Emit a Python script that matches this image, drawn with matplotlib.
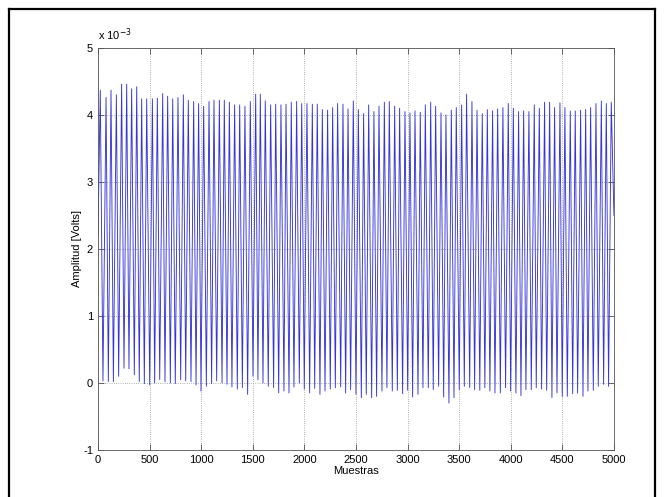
import numpy as np
import matplotlib.pyplot as plt
from matplotlib.lines import Line2D

plt.rcParams['font.family'] = ['Liberation Sans', 'DejaVu Sans']
plt.rcParams['axes.unicode_minus'] = False

# Sample index and value (x 1e-3 V) of every crest and trough
peak_samples = [22, 78, 126, 178, 229, 278, 326, 375, 423, 472,
                527, 575, 627, 675, 724, 775, 827, 875, 927, 975,
                1024, 1076, 1124, 1176, 1224, 1273,
                1324, 1373, 1424, 1476, 1528, 1573, 1621, 1673, 1722, 1773,
                1822, 1873, 1925, 1974, 2025, 2077, 2125, 2174, 2225, 2274,
                2322, 2374, 2423, 2474, 2523,
                2574, 2623, 2674, 2723, 2775, 2823, 2875, 2923, 2975, 3023,
                3072, 3123, 3172, 3224, 3272, 3324, 3372, 3424, 3472, 3524,
                3572, 3624, 3673, 3724, 3773,
                3824, 3873, 3924, 3976, 4025, 4076, 4125, 4176, 4228, 4277,
                4328, 4377, 4425, 4477, 4525, 4577, 4625, 4677, 4726, 4774,
                4826, 4878, 4926, 4974]
peak_vals = [4.37, 4.26, 4.37, 4.30, 4.46, 4.46, 4.39, 4.42, 4.24, 4.24,
             4.24, 4.25, 4.32, 4.28, 4.24, 4.26, 4.30, 4.22, 4.20, 4.17,
             4.13, 4.20, 4.22, 4.22, 4.22, 4.19,
             4.15, 4.15, 4.13, 4.20, 4.31, 4.31, 4.21, 4.15, 4.16, 4.15,
             4.16, 4.19, 4.20, 4.17, 4.17, 4.16, 4.16, 4.08, 4.07, 4.11,
             4.17, 4.16, 4.09, 4.21, 4.08,
             4.02, 4.15, 4.05, 4.13, 4.19, 4.20, 4.13, 4.10, 4.05, 4.03,
             4.06, 4.04, 4.15, 4.19, 4.13, 4.03, 4.00, 4.07, 4.11, 4.15,
             4.31, 4.20, 4.07, 4.02, 4.08,
             4.06, 4.09, 4.11, 4.17, 4.10, 4.05, 4.06, 4.05, 4.15, 4.10,
             4.19, 4.19, 4.11, 4.18, 4.11, 4.06, 4.06, 4.07, 4.08, 4.11,
             4.17, 4.21, 4.17, 4.19]

trough_samples = [48, 100, 149, 200, 252, 300, 352, 400, 449, 501,
                  549, 598, 649, 701, 749, 801, 850, 901, 950, 998,
                  1050, 1101, 1150, 1202, 1250,
                  1298, 1350, 1399, 1450, 1502, 1550, 1599, 1650, 1702, 1751,
                  1802, 1851, 1899, 1951, 1999, 2051, 2100, 2151, 2200, 2251,
                  2300, 2352, 2400, 2448, 2500,
                  2552, 2600, 2652, 2700, 2752, 2800, 2852, 2901, 2952, 3001,
                  3049, 3101, 3149, 3201, 3249, 3301, 3350, 3401, 3450, 3501,
                  3550, 3602, 3650, 3700, 3749,
                  3798, 3847, 3899, 3950, 3999, 4050, 4099, 4147, 4199, 4247,
                  4299, 4348, 4399, 4448, 4499, 4548, 4600, 4648, 4700, 4748,
                  4800, 4848, 4900, 4948]
trough_vals = [0.03, 0.02, 0.02, 0.10, 0.22, 0.21, 0.12, 0.02, -0.01, -0.03,
               0.00, 0.05, 0.02, 0.00, -0.01, 0.05, 0.03, 0.02, -0.03, -0.12,
               -0.05, -0.01, 0.03, 0.00, -0.02,
               -0.06, -0.09, -0.07, -0.17, 0.10, 0.05, 0.00, -0.05, -0.07, -0.15,
               -0.12, -0.15, -0.06, 0.00, -0.09, -0.15, -0.08, -0.17, -0.12, -0.09,
               -0.07, -0.06, -0.15, -0.10, -0.17,
               -0.22, -0.17, -0.22, -0.20, -0.12, -0.07, -0.12, -0.11, -0.16, -0.11,
               -0.21, -0.17, -0.07, -0.07, -0.10, -0.05, -0.21, -0.30, -0.22, -0.10,
               -0.05, -0.07, -0.10, -0.11, -0.07,
               -0.12, -0.15, -0.15, -0.07, -0.12, -0.15, -0.19, -0.10, -0.10, -0.07,
               -0.09, -0.11, -0.22, -0.15, -0.20, -0.20, -0.16, -0.15, -0.20, -0.12,
               -0.11, -0.05, -0.02, -0.05]

start_sample, start_val = 0, 2.2
end_sample, end_val = 5000, 2.5

# put the crests and troughs in order along the record
x = [start_sample]
y = [start_val]
for i in range(len(peak_samples)):
    x.append(peak_samples[i])
    y.append(peak_vals[i])
    if i < len(trough_samples):
        x.append(trough_samples[i])
        y.append(trough_vals[i])
x.append(end_sample)
y.append(end_val)
y = np.array(y) * 1e-3

fig = plt.figure(figsize=(6.64, 4.97), dpi=100)
ax = fig.add_axes([0.1476, 0.0946, 0.777, 0.809])

ax.plot(x, y * 1e3, color='#3535d8', linewidth=0.65)

ax.set_xlim(0, 5000)
ax.set_ylim(-1, 5)
ax.set_xticks(np.arange(0, 5001, 500))
ax.set_yticks(np.arange(-1, 6, 1))
ax.tick_params(direction='in', length=4, width=0.5, labelsize=8,
               top=True, right=True, colors='#333333', labelcolor='black')
ax.grid(True, linestyle=':', linewidth=0.6, color='#999999')
for s in ax.spines.values():
    s.set_linewidth(0.6)
    s.set_color('#555555')

ax.text(0.0, 1.012, r'x 10$^{-3}$', transform=ax.transAxes, fontsize=8,
        ha='left', va='bottom')
ax.set_xlabel('Muestras', fontsize=8, labelpad=1)
ax.set_ylabel('Amplitud [Volts]', fontsize=8, labelpad=1)

# outer frame of the figure (top, left, right)
for xs, ys in [([9, 655], [488, 488]), ([9, 9], [0, 488]), ([655, 655], [0, 488])]:
    fig.add_artist(Line2D(np.array(xs) / 664, np.array(ys) / 497,
                          color='black', linewidth=1.6))

fig.savefig('out.png', dpi=100)
